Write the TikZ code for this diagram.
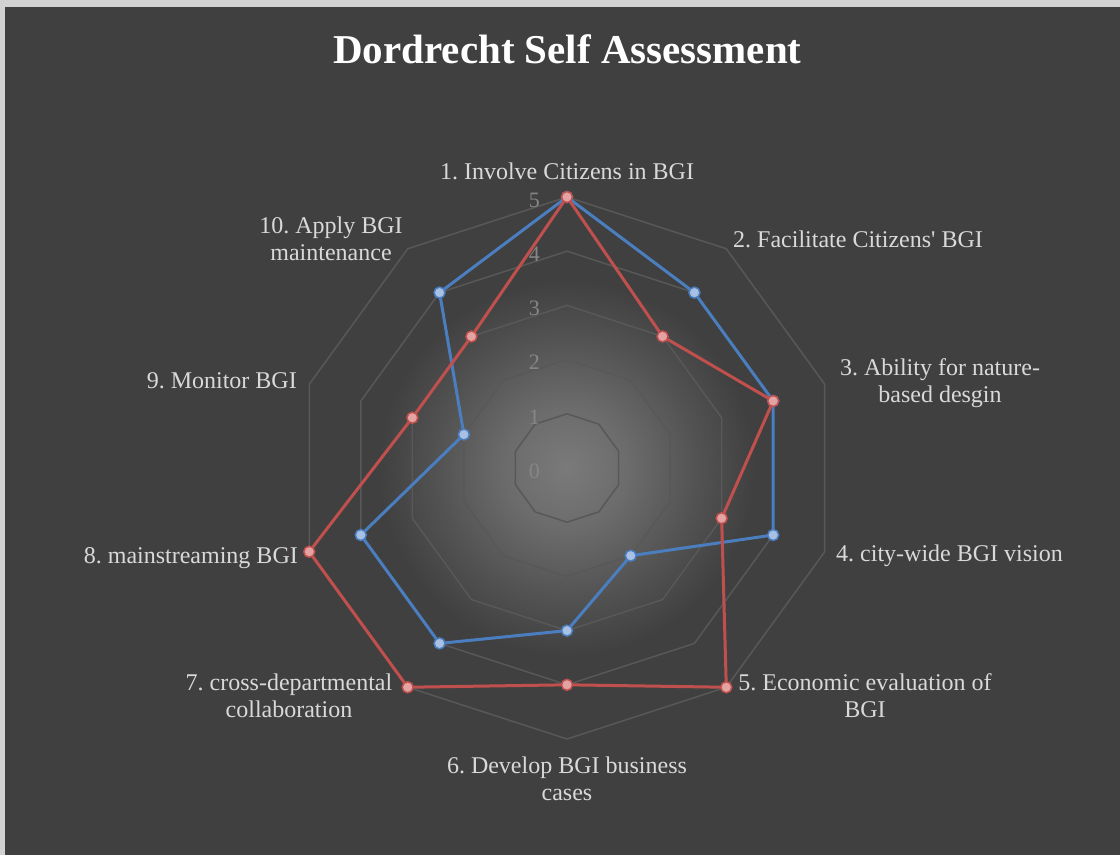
\documentclass[tikz,border=0pt]{standalone}
\usepackage{fontspec}
\newfontfamily\labfont{Liberation Serif}
\frenchspacing
\definecolor{bgc}{HTML}{404040}
\definecolor{framec}{HTML}{D2D2D2}
\definecolor{gc0}{HTML}{7A7A7A}
\definecolor{gc1}{HTML}{6C6C6C}
\definecolor{gc2}{HTML}{525252}
\definecolor{gridc}{HTML}{585858}
\definecolor{lvlc}{HTML}{868686}
\definecolor{labc}{HTML}{D9D9D9}
\definecolor{blueln}{HTML}{4A7EBF}
\definecolor{bluefl}{HTML}{A8C0E4}
\definecolor{redln}{HTML}{C0504D}
\definecolor{redfl}{HTML}{E3A3A2}
\pgfdeclareradialshading{glow}{\pgfpoint{0bp}{0bp}}{color(0bp)=(gc0); color(7.5bp)=(gc1); color(16.5bp)=(gc2); color(23.5bp)=(bgc); color(50bp)=(bgc)}
\begin{document}
\begin{tikzpicture}[x=1pt,y=-1pt,
  gridline/.style={draw=gridc,line width=1.5pt,line join=round},
  lvl/.style={text=lvlc,font=\labfont\fontsize{22}{24}\selectfont,inner sep=0pt,anchor=east},
  cat/.style={text=labc,font=\labfont\frenchspacing\fontsize{24}{27}\selectfont,inner sep=0pt,align=center},
  titlestyle/.style={text=white,font=\labfont\bfseries\fontsize{41}{45}\selectfont,inner sep=0pt},
  blueline/.style={draw=blueln,line width=3pt,line join=round},
  redline/.style={draw=redln,line width=3pt,line join=round},
  bluemark/.style={circle,draw=blueln,fill=bluefl,line width=1.5pt,minimum size=11pt,inner sep=0pt},
  redmark/.style={circle,draw=redln,fill=redfl,line width=1.5pt,minimum size=11pt,inner sep=0pt}]
\useasboundingbox (0,0) rectangle (1120,855);
\fill[framec] (0,0) rectangle (1120,855);
\fill[bgc] (5,7) rectangle (1120,855);
\node[titlestyle,anchor=base] (title) at (567.5,63) {Dordrecht Self Assessment};
\begin{scope}[shift={(567,468)}]
  \shade[shading=glow] (0,0) circle[radius=200];
  \foreach \l in {1,...,5}{
    \draw[gridline] (-90:{\l*54.2}) \foreach \k in {1,...,9}{ -- ({36*\k-90}:{\l*54.2}) } -- cycle;
  }
  \foreach \v in {0,...,5}{
    \node[lvl] (lv\v) at (-27,{-\v*54.2+3}) {\v};
  }
  \foreach \v [count=\k from 0] in {5,4,4,4,2,3,4,4,2,4}{
    \coordinate (b\k) at ({36*\k-90}:{\v*54.2});
  }
  \foreach \v [count=\k from 0] in {5,3,4,3,5,4,5,5,3,3}{
    \coordinate (r\k) at ({36*\k-90}:{\v*54.2});
  }
  \draw[blueline] (b0) -- (b1) -- (b2) -- (b3) -- (b4) -- (b5) -- (b6) -- (b7) -- (b8) -- (b9) -- cycle;
  \foreach \k in {0,...,9}{ \node[bluemark] (bm\k) at (b\k) {}; }
  \draw[redline] (r0) -- (r1) -- (r2) -- (r3) -- (r4) -- (r5) -- (r6) -- (r7) -- (r8) -- (r9) -- cycle;
  \foreach \k in {0,...,9}{ \node[redmark] (rm\k) at (r\k) {}; }
\end{scope}
\node[cat,anchor=base] (c1) at (567,179) {1. Involve Citizens in BGI};
\node[cat,anchor=base west] (c2) at (733,247) {2. Facilitate Citizens' BGI};
\node[cat,anchor=base] (c3) at (940,402) {3. Ability for nature-\\based desgin};
\node[cat,anchor=base west] (c4) at (836,561) {4. city-wide BGI vision};
\node[cat,anchor=base] (c5) at (865,717) {5. Economic evaluation of\\BGI};
\node[cat,anchor=base] (c6) at (567,800) {6. Develop BGI business\\cases};
\node[cat,anchor=base] (c7) at (289,717) {7. cross-departmental\\collaboration};
\node[cat,anchor=base east] (c8) at (298,563) {8. mainstreaming BGI};
\node[cat,anchor=base east] (c9) at (297,388) {9. Monitor BGI};
\node[cat,anchor=base] (c10) at (331,260) {10. Apply BGI\\maintenance};
\end{tikzpicture}
\end{document}
